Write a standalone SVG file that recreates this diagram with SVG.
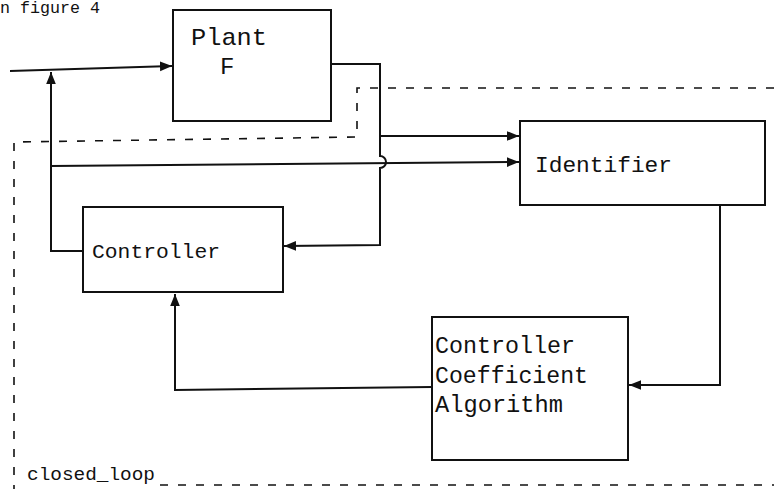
<svg xmlns="http://www.w3.org/2000/svg" width="774" height="489" viewBox="0 0 774 489">
<defs>
<style>
.box{fill:#fff;stroke:#111;stroke-width:2}
.ln{fill:none;stroke:#111;stroke-width:2}
.dash{fill:none;stroke:#111;stroke-width:1.6;stroke-dasharray:8 10}
.t{font-family:"Liberation Mono","DejaVu Sans Mono",monospace;fill:#111}
</style>
<marker id="ah" viewBox="0 0 10 10" refX="10" refY="5" markerWidth="12" markerHeight="12" markerUnits="userSpaceOnUse" orient="auto">
<path d="M0,1 L10,5 L0,9 z" fill="#111"/>
</marker>
</defs>
<rect width="774" height="489" fill="#fff"/>
<text class="t" x="0" y="13" font-size="16" textLength="100" lengthAdjust="spacingAndGlyphs">n figure 4</text>
<g id="dashed-boundary">
<path class="dash" d="M774,88 L357,88 L357,137 L14,142 L14,489"/>
<path class="dash" d="M160,485 L774,485"/>
<text class="t" x="27" y="480" font-size="19" textLength="128" lengthAdjust="spacingAndGlyphs">closed_loop</text>
</g>
<g id="connectors">
<path class="ln" d="M10,71 L172,66" marker-end="url(#ah)"/>
<path class="ln" d="M331,64 L380,64 L380,156 A6,6 0 0 1 380,168 L380,245 L284,246" marker-end="url(#ah)"/>
<path class="ln" d="M380,136 L519,136" marker-end="url(#ah)"/>
<path class="ln" d="M51,166 L519,162" marker-end="url(#ah)"/>
<path class="ln" d="M83,251 L51,251 L51,72" marker-end="url(#ah)"/>
<path class="ln" d="M720,205 L720,385 L629,385" marker-end="url(#ah)"/>
<path class="ln" d="M432,387 L175,390 L175,294" marker-end="url(#ah)"/>
</g>
<g id="plant">
<rect class="box" x="173" y="10" width="158" height="111"/>
<text class="t" x="191" y="45" font-size="24" textLength="76" lengthAdjust="spacingAndGlyphs">Plant</text>
<text class="t" x="220" y="74" font-size="24">F</text>
</g>
<g id="identifier">
<rect class="box" x="520" y="121" width="245" height="84"/>
<text class="t" x="535" y="172" font-size="22" textLength="137" lengthAdjust="spacingAndGlyphs">Identifier</text>
</g>
<g id="controller">
<rect class="box" x="83" y="207" width="200" height="85"/>
<text class="t" x="92" y="258" font-size="21" textLength="128" lengthAdjust="spacingAndGlyphs">Controller</text>
</g>
<g id="cca">
<rect class="box" x="432" y="317" width="196" height="143"/>
<text class="t" x="435" y="353" font-size="23" textLength="140" lengthAdjust="spacingAndGlyphs">Controller</text>
<text class="t" x="435" y="383" font-size="23" textLength="153" lengthAdjust="spacingAndGlyphs">Coefficient</text>
<text class="t" x="435" y="412" font-size="23" textLength="128" lengthAdjust="spacingAndGlyphs">Algorithm</text>
</g>
</svg>
